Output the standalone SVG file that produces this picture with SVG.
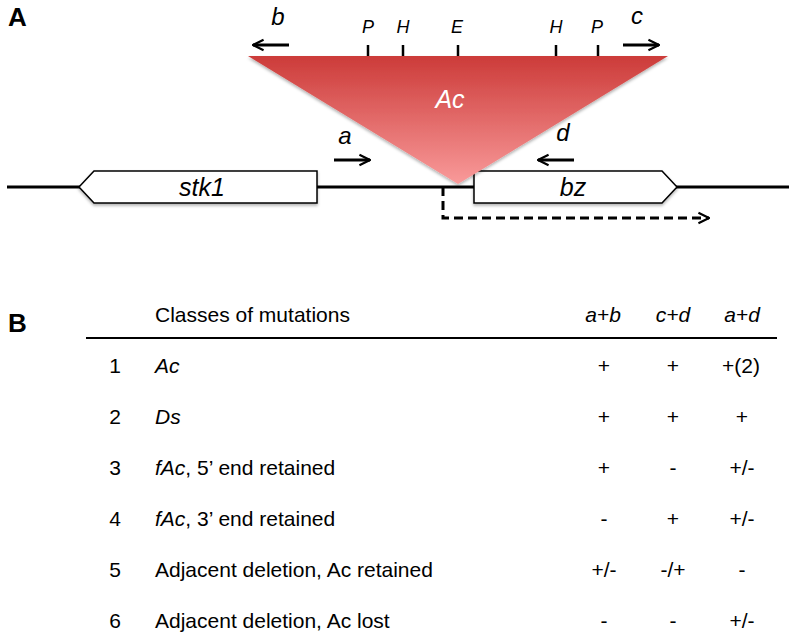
<svg xmlns="http://www.w3.org/2000/svg" width="797" height="635" viewBox="0 0 797 635">
<defs>
<linearGradient id="tri" x1="0" y1="0" x2="0" y2="1">
<stop offset="0" stop-color="#cc3b39"/>
<stop offset="1" stop-color="#f99a9a"/>
</linearGradient>
<marker id="ah" viewBox="0 0 10 10" refX="9" refY="5" markerWidth="4.4" markerHeight="4.4" orient="auto" markerUnits="strokeWidth">
<path d="M1,1 L9,5 L1,9" fill="none" stroke="#000" stroke-width="1.6"/>
</marker>
<filter id="sh" x="-10%" y="-10%" width="120%" height="130%">
<feDropShadow dx="0" dy="2" stdDeviation="1.5" flood-color="#000" flood-opacity="0.3"/>
</filter>
</defs>
<style>
text{font-family:"Liberation Sans",Arial,sans-serif;fill:#000}
.it{font-style:italic}
.lab{font-size:26px;font-weight:bold}
.site{font-size:18px;font-style:italic}
.pr{font-size:24px;font-style:italic}
.gene{font-size:25px;font-style:italic}
.tb{font-size:21px}
.c{text-anchor:middle}
.arr{stroke:#000;stroke-width:3;fill:none}
.box{fill:#fff;stroke:#000;stroke-width:1.5}
</style>
<text class="lab" x="8" y="26">A</text>
<text class="lab" x="8" y="332">B</text>

<g id="chromosome">
<line x1="7" y1="187" x2="789" y2="187" stroke="#000" stroke-width="3"/>
</g>
<g id="stk1">
<polygon class="box" points="94,171 317,171 317,203 94,203 79,187" filter="url(#sh)"/>
<text class="gene c" x="202" y="196">stk1</text>
</g>
<g id="bz">
<polygon class="box" points="474,171 662,171 677,187 662,203 474,203" filter="url(#sh)"/>
<text class="gene c" x="573" y="196">bz</text>
</g>
<g id="Ac">
<polygon points="248,56 668,56 458,184" fill="url(#tri)" filter="url(#sh)"/>
<text class="it c" x="450" y="108" font-size="25" style="fill:#fff">Ac</text>
</g>
<g id="sites">
<g stroke="#000" stroke-width="2.5">
<line x1="368" y1="45" x2="368" y2="56"/>
<line x1="403" y1="45" x2="403" y2="56"/>
<line x1="458" y1="45" x2="458" y2="56"/>
<line x1="556" y1="45" x2="556" y2="56"/>
<line x1="598" y1="45" x2="598" y2="56"/>
</g>
<text class="site c" x="368" y="33">P</text>
<text class="site c" x="403" y="33">H</text>
<text class="site c" x="457" y="33">E</text>
<text class="site c" x="556" y="33">H</text>
<text class="site c" x="597" y="33">P</text>
</g>
<g id="connectors">
<line class="arr" x1="289" y1="45" x2="253" y2="45" marker-end="url(#ah)"/>
<line class="arr" x1="623" y1="45" x2="659" y2="45" marker-end="url(#ah)"/>
<line class="arr" x1="334" y1="160" x2="370" y2="160" marker-end="url(#ah)"/>
<line class="arr" x1="574" y1="160" x2="538" y2="160" marker-end="url(#ah)"/>
<path class="arr" d="M443,187 L443,218 L709,218" stroke-dasharray="9,5" marker-end="url(#ah)"/>
</g>
<g id="primers">
<text class="pr c" x="278" y="25">b</text>
<text class="pr c" x="637" y="24">c</text>
<text class="pr c" x="345" y="144">a</text>
<text class="pr c" x="563" y="141">d</text>
</g>

<g id="table">
<text class="tb" x="155" y="322">Classes of mutations</text>
<text class="tb it c" x="603" y="322">a+b</text>
<text class="tb it c" x="673" y="322">c+d</text>
<text class="tb it c" x="742" y="322">a+d</text>
<line x1="86" y1="338" x2="777" y2="338" stroke="#000" stroke-width="1.8"/>
<g>
<text class="tb c" x="115" y="373">1</text>
<text class="tb it" x="155" y="373">Ac</text>
<text class="tb c" x="604" y="373">+</text>
<text class="tb c" x="673" y="373">+</text>
<text class="tb c" x="741" y="373">+(2)</text>

<text class="tb c" x="115" y="424">2</text>
<text class="tb it" x="155" y="424">Ds</text>
<text class="tb c" x="604" y="424">+</text>
<text class="tb c" x="673" y="424">+</text>
<text class="tb c" x="742" y="424">+</text>

<text class="tb c" x="115" y="475">3</text>
<text class="tb" x="155" y="475"><tspan class="it">fAc</tspan>, 5’ end retained</text>
<text class="tb c" x="604" y="475">+</text>
<text class="tb c" x="673" y="475">-</text>
<text class="tb c" x="742" y="475">+/-</text>

<text class="tb c" x="115" y="526">4</text>
<text class="tb" x="155" y="526"><tspan class="it">fAc</tspan>, 3’ end retained</text>
<text class="tb c" x="604" y="526">-</text>
<text class="tb c" x="673" y="526">+</text>
<text class="tb c" x="742" y="526">+/-</text>

<text class="tb c" x="115" y="577">5</text>
<text class="tb" x="155" y="577">Adjacent deletion, Ac retained</text>
<text class="tb c" x="604" y="577">+/-</text>
<text class="tb c" x="673" y="577">-/+</text>
<text class="tb c" x="742" y="577">-</text>

<text class="tb c" x="115" y="628">6</text>
<text class="tb" x="155" y="628">Adjacent deletion, Ac lost</text>
<text class="tb c" x="604" y="628">-</text>
<text class="tb c" x="673" y="628">-</text>
<text class="tb c" x="742" y="628">+/-</text>
</g>
</g>
</svg>
